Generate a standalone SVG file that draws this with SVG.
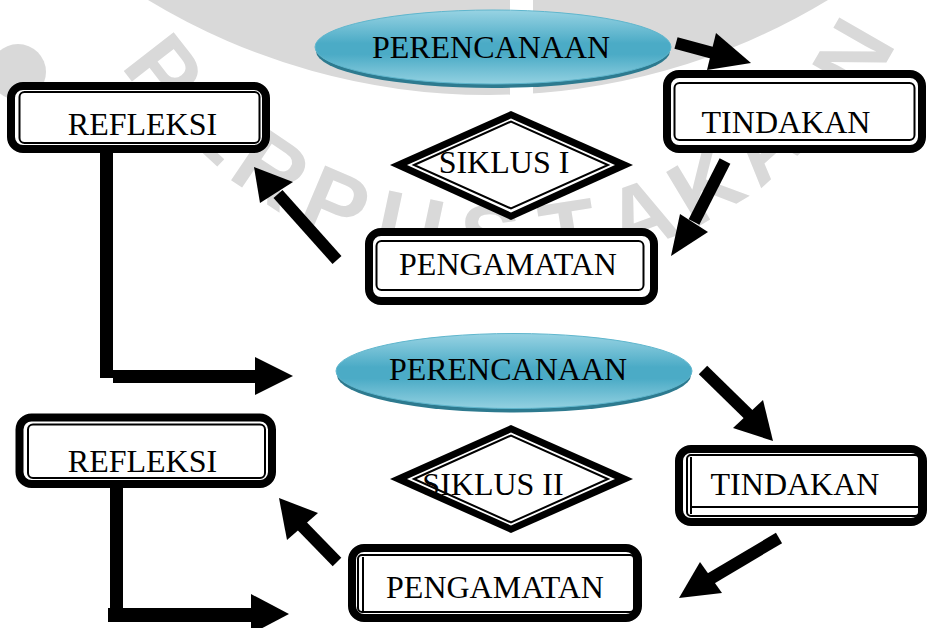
<svg xmlns="http://www.w3.org/2000/svg" width="927" height="628" viewBox="0 0 927 628">
<defs>
<linearGradient id="blue" x1="0" y1="0" x2="0" y2="1">
<stop offset="0" stop-color="#98d3e3"/>
<stop offset="0.45" stop-color="#4babc6"/>
<stop offset="0.6" stop-color="#4babc6"/>
<stop offset="1" stop-color="#93d1e1"/>
</linearGradient>
<style>
.lbl{font-family:"Liberation Serif","Times New Roman",serif;font-size:32px;fill:#000;text-anchor:middle}
.outer{fill:#fff;stroke:#000;stroke-width:8}
.inner{fill:none;stroke:#000;stroke-width:2}
.wm{font-family:"Liberation Sans",Arial,sans-serif;font-weight:bold;font-size:92px;fill:#d9d9d9;text-anchor:middle}
.head{fill:#000}
.shaft{stroke:#000;fill:none;stroke-linecap:butt}
.ell{fill:url(#blue);stroke:#5fb6cd;stroke-width:1}
.shadow{fill:#2d7a8f}
</style>
</defs>
<rect width="927" height="628" fill="#fff"/>
<g id="watermark">
<path d="M148,0 A656,656 0 0,0 828,0 Z" fill="#d9d9d9"/>
<rect x="510" y="0" width="23" height="100" fill="#fff"/>
<circle cx="18" cy="72" r="28" fill="#d9d9d9"/>
<text class="wm" transform="translate(165,70) rotate(52)" y="33">P</text>
<text class="wm" transform="translate(220,124) rotate(43)" y="33">E</text>
<text class="wm" transform="translate(272,168) rotate(34)" y="33">R</text>
<text class="wm" transform="translate(336,203) rotate(23)" y="33">P</text>
<text class="wm" transform="translate(410,226) rotate(12)" y="33">U</text>
<text class="wm" transform="translate(490,236) rotate(1)" y="33">S</text>
<text class="wm" transform="translate(568,232) rotate(-9)" y="33">T</text>
<text class="wm" transform="translate(640,214) rotate(-20)" y="33">A</text>
<text class="wm" transform="translate(705,184) rotate(-31)" y="33">K</text>
<text class="wm" transform="translate(762,143) rotate(-42)" y="33">A</text>
<text class="wm" transform="translate(810,98) rotate(-52)" y="33">A</text>
<text class="wm" transform="translate(852,56) rotate(-60)" y="33">N</text>
</g>
<g id="connectors">
<line class="shaft" x1="676" y1="43" x2="713" y2="53" stroke-width="12"/>
<polygon class="head" points="716,33 751,63 707,70"/>
<line class="shaft" x1="725" y1="161" x2="694" y2="222" stroke-width="12"/>
<polygon class="head" points="680,214 671,256 708,232"/>
<line class="shaft" x1="337" y1="260" x2="278" y2="194" stroke-width="12"/>
<polygon class="head" points="254,167 260,203 293,182"/>
<rect x="100" y="153" width="13" height="225" fill="#000"/>
<rect x="113" y="370" width="143" height="13" fill="#000"/>
<polygon class="head" points="255,357 293,376 255,395"/>
<line class="shaft" x1="703" y1="370" x2="749" y2="415" stroke-width="12"/>
<polygon class="head" points="733,428 773,441 763,400"/>
<line class="shaft" x1="779" y1="538" x2="710" y2="579" stroke-width="12"/>
<polygon class="head" points="700,562 679,598 722,593"/>
<line class="shaft" x1="337" y1="562" x2="301" y2="525" stroke-width="12"/>
<polygon class="head" points="287,540 279,498 318,513"/>
<rect x="110" y="488" width="13" height="122" fill="#000"/>
<rect x="108" y="608" width="144" height="14" fill="#000"/>
<polygon class="head" points="251,594 289,614 251,634"/>
</g>
<g id="perencanaan1">
<ellipse class="shadow" cx="493" cy="51" rx="177" ry="37"/>
<ellipse class="ell" cx="493" cy="47" rx="178" ry="37"/>
<text class="lbl" x="491" y="58">PERENCANAAN</text>
</g>
<g id="tindakan1">
<rect class="outer" x="667" y="74" width="255" height="75" rx="12"/>
<rect class="inner" x="674.5" y="83" width="240" height="57" rx="5"/>
<text class="lbl" x="786" y="133">TINDAKAN</text>
</g>
<g id="refleksi1">
<rect class="outer" x="11" y="86" width="255" height="63" rx="12"/>
<rect class="inner" x="19.5" y="92" width="240" height="51" rx="5"/>
<text class="lbl" x="142.5" y="135">REFLEKSI</text>
</g>
<g id="siklus1">
<polygon points="390,165 511,111 633,165 511,220" fill="#000"/>
<polygon points="407,165 511,118.5 615,165 511,212.5" fill="#fff"/>
<polygon points="414,165 511,121.5 608,165 511,208.5" fill="none" stroke="#000" stroke-width="2"/>
<text class="lbl" x="504" y="173">SIKLUS I</text>
</g>
<g id="pengamatan1">
<rect class="outer" x="369" y="232" width="285" height="69" rx="12"/>
<rect class="inner" x="376.5" y="241" width="267" height="49" rx="5"/>
<text class="lbl" x="508" y="275">PENGAMATAN</text>
</g>
<g id="perencanaan2">
<ellipse class="shadow" cx="514" cy="375" rx="177" ry="37.5"/>
<ellipse class="ell" cx="514" cy="371" rx="178" ry="37.5"/>
<text class="lbl" x="508" y="380">PERENCANAAN</text>
</g>
<g id="refleksi2">
<rect class="outer" x="19.5" y="417.5" width="252.5" height="66.5" rx="12"/>
<rect class="inner" x="28" y="424.5" width="237" height="53.5" rx="5"/>
<text class="lbl" x="142.5" y="472">REFLEKSI</text>
</g>
<g id="tindakan2">
<rect class="outer" x="679" y="449" width="244" height="73" rx="12"/>
<rect class="inner" x="687" y="455" width="232" height="61" rx="4"/>
<line x1="691" y1="457" x2="691" y2="514" stroke="#000" stroke-width="2"/>
<line x1="691" y1="507" x2="918" y2="507" stroke="#000" stroke-width="2"/>
<text class="lbl" x="795" y="495">TINDAKAN</text>
</g>
<g id="siklus2">
<polygon points="390,479 511,425 633,479 511,533" fill="#000"/>
<polygon points="407,479 511,432.5 615,479 511,525.5" fill="#fff"/>
<polygon points="414,479 511,435.5 608,479 511,522.5" fill="none" stroke="#000" stroke-width="2"/>
<text class="lbl" x="493" y="495">SIKLUS II</text>
</g>
<g id="pengamatan2">
<rect class="outer" x="352" y="548" width="286" height="70" rx="12"/>
<rect class="inner" x="358" y="555" width="276" height="57" rx="4"/>
<line x1="363" y1="557" x2="363" y2="612" stroke="#000" stroke-width="2"/>
<text class="lbl" x="495" y="598">PENGAMATAN</text>
</g>
</svg>
